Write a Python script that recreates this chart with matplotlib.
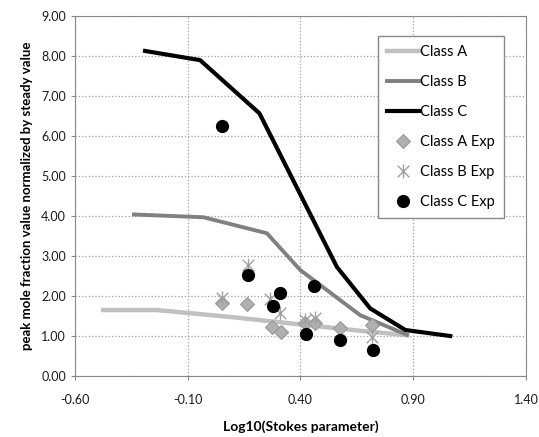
import numpy as np
import matplotlib
matplotlib.use('Agg')
import matplotlib.pyplot as plt
from matplotlib.path import Path

plt.rcParams['font.family'] = ['Lato', 'DejaVu Sans']

# model curves
class_a_x = [-0.474, -0.237, 0.10, 0.40, 0.65, 0.872]
class_a_y = [1.65, 1.65, 1.47, 1.29, 1.14, 1.02]
class_b_x = [-0.338, -0.030, 0.251, 0.399, 0.665, 0.872]
class_b_y = [4.04, 3.97, 3.57, 2.65, 1.52, 1.03]
class_c_x = [-0.289, -0.045, 0.218, 0.561, 0.709, 0.865, 1.064]
class_c_y = [8.13, 7.90, 6.57, 2.73, 1.69, 1.15, 1.00]

# experiments
exp_a_x = [0.051, 0.165, 0.273, 0.313, 0.421, 0.463, 0.576, 0.717]
exp_a_y = [1.82, 1.80, 1.23, 1.11, 1.33, 1.32, 1.19, 1.27]
exp_b_x = [0.051, 0.169, 0.265, 0.310, 0.421, 0.465, 0.717]
exp_b_y = [1.94, 2.78, 1.92, 1.57, 1.40, 1.44, 0.98]
exp_c_x = [0.054, 0.169, 0.310, 0.277, 0.461, 0.424, 0.573, 0.720]
exp_c_y = [6.26, 2.52, 2.08, 1.75, 2.25, 1.06, 0.90, 0.65]

# excel style star: X with a vertical bar
star = Path([(-1, -1), (1, 1), (-1, 1), (1, -1), (0, -1.2), (0, 1.2)],
            [Path.MOVETO, Path.LINETO] * 3)

fig = plt.figure(figsize=(5.39, 4.37), dpi=100)
ax = fig.add_axes([0.139, 0.1396, 0.837, 0.8234])

ax.plot(class_a_x, class_a_y, '-', color='#c0c0c0', lw=3.2, label='Class A', zorder=2)
ax.plot(class_b_x, class_b_y, '-', color='#808080', lw=2.8, label='Class B', zorder=2)
ax.plot(class_c_x, class_c_y, '-', color='black', lw=3.0, label='Class C', zorder=3)
ax.plot(exp_a_x, exp_a_y, 'D', ms=7.5, color='#b0b0b0', mec='#999999', mew=0.8,
        label='Class A Exp', zorder=4)
ax.plot(exp_b_x, exp_b_y, ls='none', marker=star, ms=10, color='#a0a0a0', mfc='none',
        mew=1.0, label='Class B Exp', zorder=4)
ax.plot(exp_c_x, exp_c_y, 'o', ms=8.5, color='black', label='Class C Exp', zorder=5)

ax.set_xlim(-0.6, 1.4)
ax.set_ylim(0, 9)
ax.set_xticks(np.arange(-0.6, 1.41, 0.5))
ax.set_yticks(np.arange(0, 9.01, 1))
ax.xaxis.set_major_formatter(matplotlib.ticker.FormatStrFormatter('%.2f'))
ax.yaxis.set_major_formatter(matplotlib.ticker.FormatStrFormatter('%.2f'))
ax.tick_params(labelsize=9, length=3, color='#888888', labelcolor='#1a1a1a')
ax.tick_params(axis='x', pad=10)
ax.grid(True, ls=':', color='#a0a0a0', lw=0.9)
ax.set_axisbelow(True)
for s in ax.spines.values():
    s.set_color('#888888')

ax.set_xlabel('Log10(Stokes parameter)', fontsize=10, fontweight='bold', labelpad=10)
ax.set_ylabel('peak mole fraction value normalized by steady value', fontsize=9.5,
              fontweight='bold', labelpad=6)

leg = ax.legend(loc='upper right', bbox_to_anchor=(0.951, 0.944), borderaxespad=0,
                fontsize=10.5, fancybox=False, framealpha=1, edgecolor='#888888',
                handlelength=2.2, handletextpad=0.1, labelspacing=1.1, borderpad=0.6)
leg.get_frame().set_linewidth(1.0)

plt.savefig('out.png', dpi=100)
